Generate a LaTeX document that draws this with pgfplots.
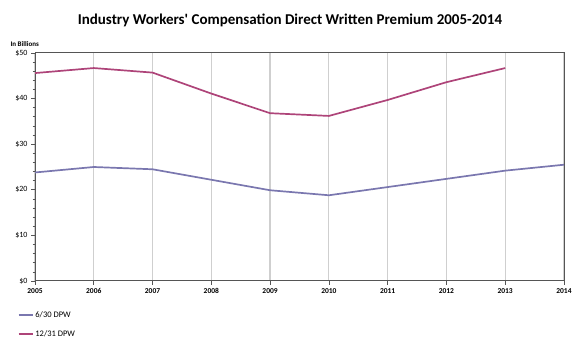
\documentclass[border=0pt]{standalone}
\usepackage{pgfplots}
\pgfplotsset{compat=1.18}
\usepackage{fontspec}
\setmainfont{Carlito}
\definecolor{cred}{HTML}{AE4479}
\definecolor{cpur}{HTML}{7A77AF}
\definecolor{cgrid}{HTML}{CFCFCF}
\definecolor{caxis}{HTML}{555555}
\begin{document}
\begin{tikzpicture}
\useasboundingbox (0,0) rectangle (580bp,351bp);
\node[font=\bfseries\fontsize{15bp}{17bp}\selectfont] at (290bp,331bp) {Industry Workers\textquotesingle\ Compensation Direct Written Premium 2005-2014};
\node[font=\bfseries\fontsize{7bp}{8bp}\selectfont, anchor=west] at (7bp,307bp) {In Billions};
\begin{axis}[
  at={(35bp,70bp)}, anchor=south west,
  scale only axis, width=529bp, height=228bp,
  xmin=2005, xmax=2014, ymin=0, ymax=50,
  xtick={2005,...,2014},
  ytick={0,10,...,50},
  minor y tick num=4,
  xticklabel style={font=\bfseries\fontsize{7.5bp}{8bp}\selectfont},
  xticklabel={\pgfmathprintnumber[1000 sep={},assume math mode=true]{\tick}},
  yticklabel style={font=\fontsize{8bp}{9bp}\selectfont},
  yticklabel={\$\pgfmathprintnumber[assume math mode=true]{\tick}},
  /pgf/number format/assume math mode=true,
  xmajorgrids, grid style={cgrid, line width=1.2bp},
  axis line style={caxis, line width=1bp},
  tick style={caxis, line width=0.7bp},
  tick align=outside,
  major tick length=4bp, minor tick length=2.5bp,
  xtick pos=bottom, ytick pos=left,
  legend style={at={(axis description cs:-0.033,-0.123)}, anchor=north west, draw=none, fill=none,
    font=\fontsize{8.5bp}{9bp}\selectfont, row sep=8bp, inner sep=0pt, cells={anchor=west}},
  legend image code/.code={\draw[#1] (0bp,0bp) -- (14bp,0bp);},
  legend cell align=left,
]
\addplot[color=cpur, line width=1.7bp] coordinates {
(2005,23.8) (2006,25.0) (2007,24.5) (2008,22.2) (2009,19.9) (2010,18.8) (2011,20.6) (2012,22.4) (2013,24.2) (2014,25.5)};
\addlegendentry{6/30 DPW}
\addplot[color=cred, line width=1.7bp] coordinates {
(2005,45.6) (2006,46.7) (2007,45.7) (2008,41.1) (2009,36.8) (2010,36.2) (2011,39.7) (2012,43.6) (2013,46.7)};
\addlegendentry{12/31 DPW}
\end{axis}
\end{tikzpicture}
\end{document}
